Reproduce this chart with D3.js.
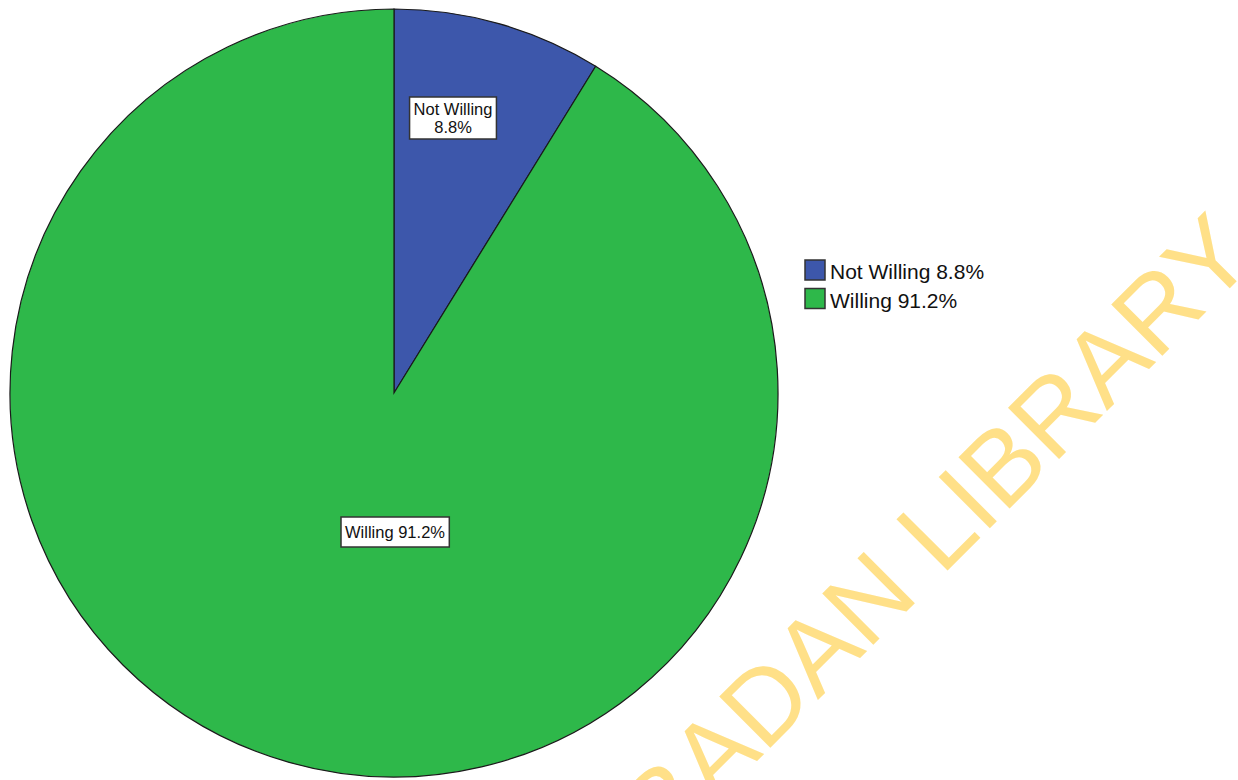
<!DOCTYPE html>
<html>
<head>
<meta charset="utf-8">
<script src="https://cdn.jsdelivr.net/npm/d3@7"></script>
<style>
  body { margin: 0; background: #fff; }
  svg { display: block; font-family: "Liberation Sans", Arial, sans-serif; }
</style>
</head>
<body>
<div id="chart"></div>
<script>
// data
var categories = ["Not Willing", "Willing"];
var percents = [8.8, 91.2];
var colors = ["#3D57AB", "#2EB84A"];
var legendLabels = ["Not Willing 8.8%", "Willing 91.2%"];
var sliceLabels = [["Not Willing", "8.8%"], ["Willing 91.2%"]];

var width = 1238, height = 780;
var cx = 394, cy = 393, radius = 384;

var svg = d3.select("#chart")
  .append("svg")
    .attr("width", width)
    .attr("height", height);

// pie
var pie = d3.pie().sort(null).value(function (d) { return d; });
var arc = d3.arc().innerRadius(0).outerRadius(radius);

var g = svg.append("g")
  .attr("transform", "translate(" + cx + "," + cy + ")");

g.selectAll("path")
  .data(pie(percents))
  .enter()
  .append("path")
    .attr("d", arc)
    .attr("fill", function (d, i) { return colors[i]; })
    .attr("stroke", "#1a1a1a")
    .attr("stroke-width", 1.2);

// slice labels (boxed), placement as in the original
var labelPos = [[453, 118], [395, 532]];
sliceLabels.forEach(function (lines, i) {
  var lg = svg.append("g")
    .attr("transform", "translate(" + labelPos[i][0] + "," + labelPos[i][1] + ")");
  var lineH = 18;
  var txt = lg.append("text")
    .attr("text-anchor", "middle")
    .style("font-size", "16.5px")
    .attr("fill", "#111");
  lines.forEach(function (l, j) {
    txt.append("tspan")
      .attr("x", 0)
      .attr("y", (j - (lines.length - 1) / 2) * lineH + 6)
      .text(l);
  });
  var bb = txt.node().getBBox();
  var padX = 4, padY = lines.length > 1 ? 3 : 6;
  lg.insert("rect", "text")
    .attr("x", bb.x - padX)
    .attr("y", bb.y - padY)
    .attr("width", bb.width + 2 * padX)
    .attr("height", bb.height + 2 * padY)
    .attr("fill", "#fff")
    .attr("stroke", "#333")
    .attr("stroke-width", 1.5);
});

// legend
var legend = svg.append("g")
  .attr("transform", "translate(804,259)");

var item = legend.selectAll("g")
  .data(categories)
  .enter()
  .append("g")
    .attr("transform", function (d, i) { return "translate(0," + (i * 28.5) + ")"; });

item.append("rect")
  .attr("x", 1).attr("y", 1)
  .attr("width", 20).attr("height", 20)
  .attr("fill", function (d, i) { return colors[i]; })
  .attr("stroke", "#333")
  .attr("stroke-width", 1.5);

item.append("text")
  .attr("x", 26)
  .attr("y", 20)
  .style("font-size", "21px")
  .attr("fill", "#111")
  .text(function (d, i) { return legendLabels[i]; });

// watermark
svg.append("text")
  .attr("transform", "translate(1258,260) rotate(-45)")
  .attr("text-anchor", "end")
  .style("font-size", "105px")
  .attr("fill", "#FFE088")
  .text("UNIVERSITY OF IBADAN LIBRARY");
</script>
</body>
</html>
